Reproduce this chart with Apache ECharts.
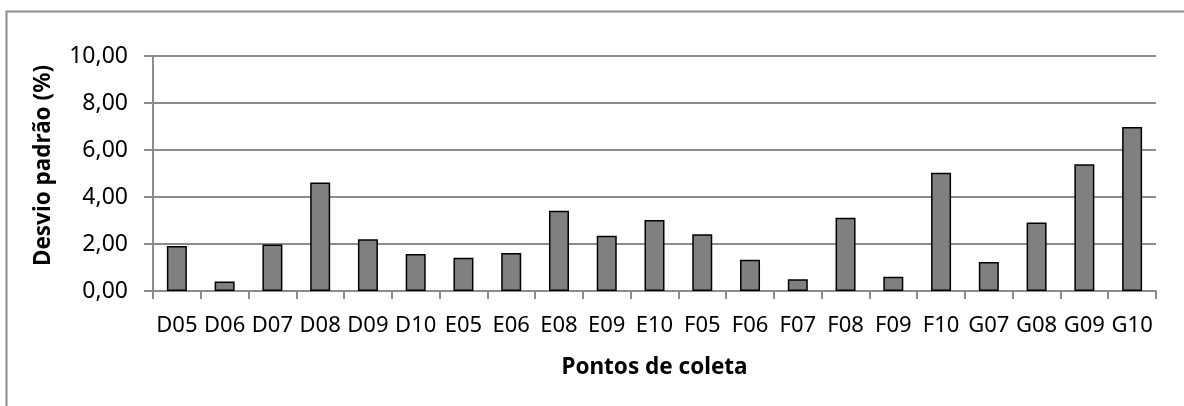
<!DOCTYPE html>
<html>
<head>
<meta charset="utf-8">
<style>html,body{margin:0;padding:0;background:#fff;}#c{width:1184px;height:406px;}</style>
<script src="https://cdn.jsdelivr.net/npm/echarts@6/dist/echarts.min.js"></script>
</head>
<body>
<div id="c"></div>
<script>
const categories = ["D05","D06","D07","D08","D09","D10","E05","E06","E08","E09","E10","F05","F06","F07","F08","F09","F10","G07","G08","G09","G10"];
const desvio = [1.91,0.40,1.98,4.62,2.20,1.57,1.42,1.62,3.42,2.35,3.02,2.41,1.33,0.50,3.12,0.61,5.03,1.23,2.91,5.39,6.98];
const yTicks = [0,2,4,6,8,10];
const xTitle = "Pontos de coleta";
const yTitle = "Desvio padrão (%)";

const chart = echarts.init(document.getElementById('c'), null, {renderer:'canvas'});
const F = "'Noto Sans', 'Open Sans', sans-serif";
chart.setOption({
  animation:false,
  backgroundColor:'#ffffff',
  graphic:[{type:'rect', shape:{x:6.5,y:11.5,width:1200,height:420}, style:{fill:'none', stroke:'#8c8c8c', lineWidth:2}, silent:true}],
  grid:{left:153, right:28, top:56, bottom:115, containLabel:false},
  xAxis:{
    type:'category', data:categories,
    name:xTitle, nameLocation:'middle', nameGap:65,
    nameTextStyle:{fontFamily:F, fontWeight:'bold', fontSize:22.5, color:'#000'},
    axisLine:{lineStyle:{color:'#8c8c8c', width:2}},
    axisTick:{show:true, length:8, lineStyle:{color:'#8c8c8c', width:2}, alignWithLabel:false},
    axisLabel:{interval:0, margin:24, fontFamily:F, fontSize:22, color:'#000'}
  },
  yAxis:{
    type:'value', min:yTicks[0], max:yTicks[yTicks.length-1], interval:2,
    name:yTitle, nameLocation:'middle', nameGap:98, nameRotate:90,
    nameTextStyle:{fontFamily:F, fontWeight:'bold', fontSize:22.5, color:'#000', padding:[0,0,0,16]},
    axisLine:{show:true, lineStyle:{color:'#8c8c8c', width:2}},
    axisTick:{show:true, length:9, lineStyle:{color:'#8c8c8c', width:2}},
    axisLabel:{margin:25, fontFamily:F, fontSize:23, color:'#000',
      formatter:v=>v.toFixed(2).replace('.',',')},
    splitLine:{lineStyle:{color:'#8c8c8c', width:2}}
  },
  series:[{
    type:'bar', data:desvio, barWidth:20,
    itemStyle:{color:'#808080', borderColor:'#000', borderWidth:1.5}
  }]
});
</script>
</body>
</html>
